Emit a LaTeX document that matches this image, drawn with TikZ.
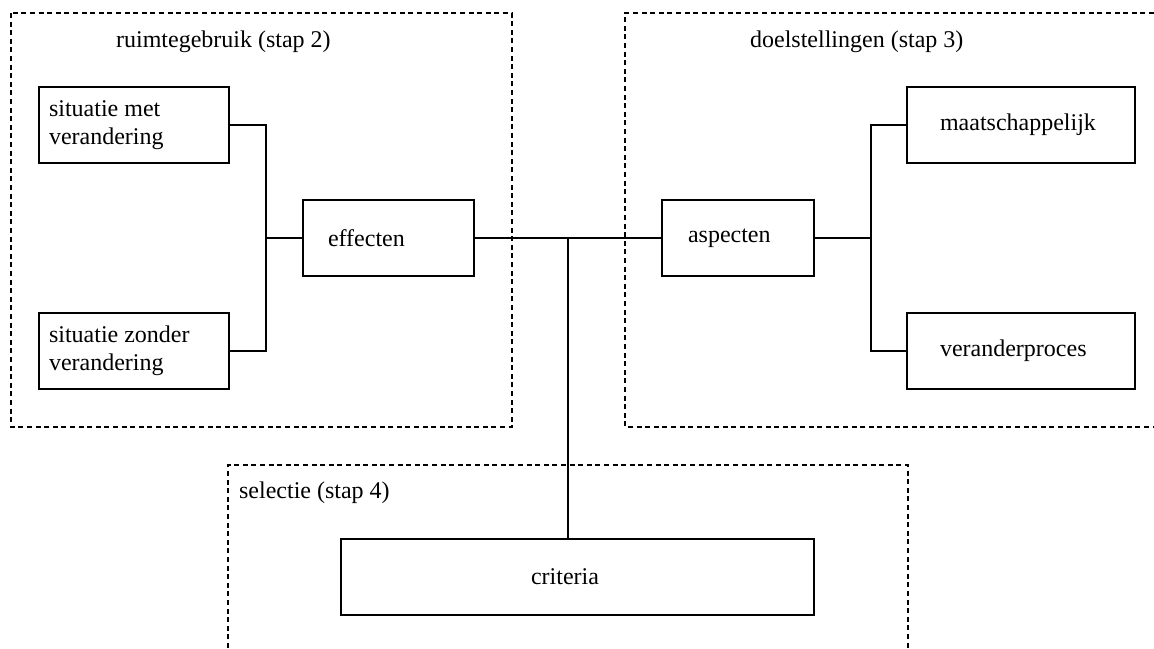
\documentclass[tikz,border=0pt]{standalone}
\usepackage{fontspec}
\setmainfont{Liberation Serif}
\usetikzlibrary{positioning, calc}
\tikzset{
  every picture/.style={font=\fontsize{12}{14}\selectfont, line width=1.1pt},
  box/.style={draw, line width=1.1pt, align=flush left, minimum height=38pt, inner ysep=2pt, inner xsep=#1},
  box/.default=5pt,
  frame/.style={draw, dash pattern=on 2.5pt off 1.8pt, line width=1.2pt},
  link/.style={draw, line width=1.1pt},
  title/.style={anchor=west, inner sep=0pt},
}

\begin{document}
\begin{tikzpicture}[x=0.5pt, y=-0.5pt]
  \useasboundingbox (0,0) rectangle (1154,648);
  % dashed frames for the three steps
  \draw[frame] (11,13) rectangle (512,427);
  \draw[frame] (1154,13) -- (625,13) -- (625,427) -- (1154,427);
  \draw[frame] (228,648) -- (228,465) -- (908,465) -- (908,648);
  \node[title] (t2) at (115,42) {ruimtegebruik (stap 2)};
  \node[title] (t3) at (749,42) {doelstellingen (stap 3)};
  \node[title] (t4) at (238,493) {selectie (stap 4)};
  % stap 2
  \node[box, text width=85pt] (met) at (134,125) {situatie met\\verandering};
  \node[box, text width=85pt] (zonder) at (134,351) {situatie zonder\\verandering};
  \node[box=12.5pt, text width=60.5pt] (effecten) at (388.5,238) {effecten};
  % stap 3
  \node[box=13pt, text width=50pt] (aspecten) at (738,238) {aspecten};
  \node[box=16.5pt, text width=81pt] (maatsch) at (1021,125) {maatschappelijk};
  \node[box=16.5pt, text width=81pt] (proces) at (1021,351) {veranderproces};
  % stap 4
  \node[box=95pt, text width=46.5pt] (criteria) at (577.5,577) {criteria};
  % junctions
  \coordinate (jl) at (266,238);
  \coordinate (jm) at (568,238);
  \coordinate (jr) at (871,238);
  \draw[link] (met.east) -| (jl);
  \draw[link] (zonder.east) -| (jl);
  \draw[link] (jl) -- (effecten.west);
  \draw[link] (effecten.east) -- (aspecten.west);
  \draw[link] (jm) -- (jm |- criteria.north);
  \draw[link] (aspecten.east) -- (jr);
  \draw[link] (jr) |- (maatsch.west);
  \draw[link] (jr) |- (proces.west);
\end{tikzpicture}
\end{document}
